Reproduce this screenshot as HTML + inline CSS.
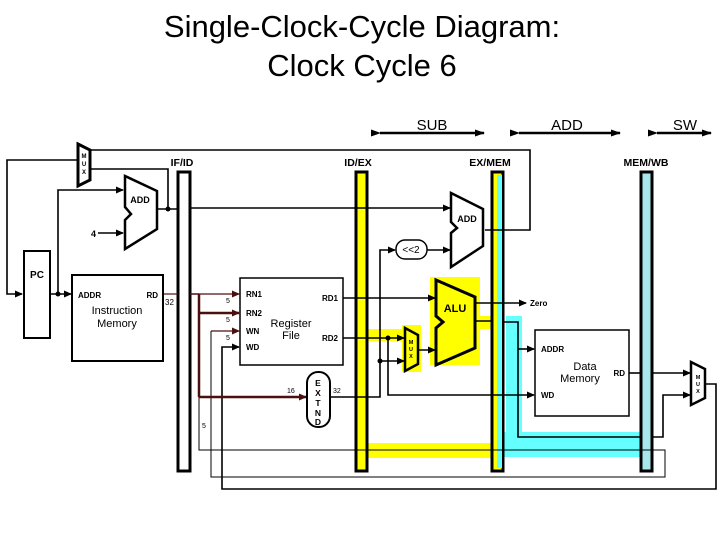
<!DOCTYPE html>
<html><head><meta charset="utf-8"><style>
html,body{margin:0;padding:0;background:#fff;}
svg{display:block;font-family:"Liberation Sans",Arial,sans-serif;}
</style></head><body>
<svg width="720" height="540" viewBox="0 0 720 540" xmlns="http://www.w3.org/2000/svg">
<defs>
<marker id="a" markerWidth="8" markerHeight="8" refX="7" refY="4" orient="auto" markerUnits="userSpaceOnUse"><path d="M0,0.5 L8,4 L0,7.5z" fill="#000"/></marker>
<marker id="r" markerWidth="8" markerHeight="8" refX="7" refY="4" orient="auto" markerUnits="userSpaceOnUse"><path d="M0,0.5 L8,4 L0,7.5z" fill="#4a1010"/></marker>
<marker id="d" markerWidth="10" markerHeight="8" refX="9" refY="4" orient="auto" markerUnits="userSpaceOnUse"><path d="M0,0.5 L10,4 L0,7.5z" fill="#000"/></marker>
</defs>
<text x="362" y="37" font-size="31" text-anchor="middle">Single-Clock-Cycle Diagram:</text>
<text x="362" y="76" font-size="31" text-anchor="middle">Clock Cycle 6</text>
<g stroke="#000" stroke-width="2.5">
<line x1="380" y1="133" x2="484" y2="133" marker-end="url(#d)" marker-start="url(#d)"/>
<line x1="519" y1="133" x2="620" y2="133" marker-end="url(#d)" marker-start="url(#d)"/>
<line x1="657" y1="133" x2="711" y2="133" marker-end="url(#d)" marker-start="url(#d)"/>
</g>
<text x="432" y="130" font-size="15" text-anchor="middle">SUB</text>
<text x="567" y="130" font-size="15" text-anchor="middle">ADD</text>
<text x="685" y="130" font-size="15" text-anchor="middle">SW</text>

<g fill="#ffff00">
<rect x="367" y="329" width="40" height="12"/>
<rect x="402" y="325" width="19" height="47"/>
<rect x="430" y="277" width="50" height="88"/>
<rect x="478" y="316" width="14" height="13"/>
<rect x="367" y="443" width="125" height="15"/>
</g>
<g fill="#66ffff">
<rect x="506" y="316" width="16" height="133"/>
<rect x="503" y="432" width="138" height="25"/>
</g>

<rect x="178" y="172" width="12" height="299" fill="#fff" stroke="#000" stroke-width="3"/>
<rect x="356" y="172" width="11" height="299" fill="#ffff00" stroke="#000" stroke-width="3"/>
<rect x="492" y="172" width="11" height="299" fill="#ffff00" stroke="#000" stroke-width="3"/>
<rect x="497" y="175" width="5" height="293" fill="#66ffff"/>
<rect x="641" y="172" width="11" height="299" fill="#a8e8ec" stroke="#000" stroke-width="3"/>
<g font-size="10.5" font-weight="bold" text-anchor="middle">
<text x="182" y="166">IF/ID</text><text x="358" y="166">ID/EX</text><text x="490" y="166">EX/MEM</text><text x="646" y="166">MEM/WB</text>
</g>

<g stroke="#000" stroke-width="1.6" fill="none">
<polyline points="90,150 530,150 530,230 485,230"/>
<polyline points="78,160 7,160 7,294 22,294" marker-end="url(#a)"/>
<polyline points="50,294 71,294" marker-end="url(#a)"/>
<polyline points="58,294 58,190 123,190" marker-end="url(#a)"/>
<line x1="98" y1="233" x2="123" y2="233" marker-end="url(#a)"/>
<line x1="157" y1="209" x2="178" y2="209"/>
<polyline points="168,209 168,169 91,169"/>
<line x1="190" y1="208" x2="450" y2="208" marker-end="url(#a)"/>
<line x1="427" y1="250" x2="450" y2="250" marker-end="url(#a)"/>
<polyline points="310,397 380,397 380,250 395,250" marker-end="url(#a)"/>
<line x1="380" y1="361" x2="404" y2="361" marker-end="url(#a)"/>
<line x1="343" y1="298" x2="435" y2="298" marker-end="url(#a)"/>
<line x1="343" y1="338" x2="404" y2="338" marker-end="url(#a)"/>
<polyline points="388,338 388,395 534,395" marker-end="url(#a)"/>
<line x1="418" y1="350" x2="435" y2="350" marker-end="url(#a)"/>
<line x1="475" y1="303" x2="526" y2="303" marker-end="url(#a)"/>
<line x1="475" y1="321" x2="492" y2="321"/>
<polyline points="503,322 518,322 518,437 641,437"/>
<line x1="518" y1="349" x2="534" y2="349" marker-end="url(#a)"/>
<line x1="629" y1="373" x2="641" y2="373"/>
<line x1="653" y1="373" x2="690" y2="373" marker-end="url(#a)"/>
<polyline points="653,437 663,437 663,395 690,395" marker-end="url(#a)"/>
<polyline points="705,384 716,384 716,489 222,489 222,347 239,347" marker-end="url(#a)"/>
</g>
<g stroke="#000" stroke-width="1" fill="none">
<polyline points="199,397 199,450 665,450 665,477 211,477 211,331"/>
</g>
<g stroke="#4a1010" fill="none">
<line x1="163" y1="294" x2="178" y2="294" stroke-width="1.2"/>
<line x1="190" y1="294" x2="199" y2="294" stroke-width="1.5"/>
<line x1="199" y1="294" x2="199" y2="397" stroke-width="2.5"/>
<line x1="199" y1="294" x2="239" y2="294" stroke-width="1.3" marker-end="url(#r)"/>
<line x1="199" y1="313" x2="239" y2="313" stroke-width="2.5" marker-end="url(#r)"/>
<line x1="211" y1="331" x2="239" y2="331" stroke-width="1.3" marker-end="url(#r)"/>
<line x1="199" y1="397" x2="306" y2="397" stroke-width="2.5" marker-end="url(#r)"/>
</g>
<g fill="#000">
<circle cx="58" cy="294" r="2.5"/><circle cx="168" cy="209" r="2.5"/>
<circle cx="388" cy="338" r="2.5"/><circle cx="380" cy="361" r="2.5"/>
</g>

<polygon points="78,144 90,150 90,180 78,186" fill="#fff" stroke="#000" stroke-width="3"/>
<text font-size="6" font-weight="bold" x="84" y="158" text-anchor="middle">M</text>
<text font-size="6" font-weight="bold" x="84" y="166" text-anchor="middle">U</text>
<text font-size="6" font-weight="bold" x="84" y="174" text-anchor="middle">X</text>
<polygon points="125,176 157,191 157,229 125,249 125,220 131,214 125,207" fill="#fff" stroke="#000" stroke-width="2.5"/>
<text x="140" y="203" font-size="9" font-weight="bold" text-anchor="middle">ADD</text>
<text x="96" y="237" font-size="9" font-weight="bold" text-anchor="end">4</text>
<rect x="24" y="251" width="26" height="87" fill="#fff" stroke="#000" stroke-width="2"/>
<text x="37" y="278" font-size="10" font-weight="bold" text-anchor="middle">PC</text>
<rect x="72" y="275" width="91" height="86" fill="#fff" stroke="#000" stroke-width="2"/>
<text x="78" y="298" font-size="8" font-weight="bold">ADDR</text>
<text x="158" y="298" font-size="8" font-weight="bold" text-anchor="end">RD</text>
<text x="117" y="314" font-size="11" text-anchor="middle">Instruction</text>
<text x="117" y="327" font-size="11" text-anchor="middle">Memory</text>
<text x="165" y="305" font-size="8">32</text>
<rect x="240" y="278" width="103" height="87" fill="#fff" stroke="#000" stroke-width="1.5"/>
<g font-size="8" font-weight="bold">
<text x="246" y="297">RN1</text><text x="246" y="316">RN2</text><text x="246" y="334">WN</text><text x="246" y="350">WD</text>
<text x="338" y="301" text-anchor="end">RD1</text><text x="338" y="341" text-anchor="end">RD2</text>
</g>
<text x="291" y="327" font-size="11" text-anchor="middle">Register</text>
<text x="291" y="339" font-size="11" text-anchor="middle">File</text>
<g font-size="7"><text x="226" y="303">5</text><text x="226" y="322">5</text><text x="226" y="340">5</text>
<text x="287" y="393">16</text><text x="333" y="393">32</text><text x="202" y="428">5</text></g>
<rect x="307" y="372" width="23" height="55" rx="11" fill="#fff" stroke="#000" stroke-width="2"/>
<g font-size="8.5" font-weight="bold" text-anchor="middle"><text x="318" y="386">E</text><text x="318" y="396">X</text><text x="318" y="406">T</text><text x="318" y="416">N</text><text x="318" y="425">D</text></g>
<rect x="396" y="240" width="31" height="19" rx="9" fill="#fff" stroke="#000" stroke-width="1.5"/>
<text x="411" y="253" font-size="10" text-anchor="middle">&lt;&lt;2</text>
<polygon points="451,193 483,209 483,246 451,267 451,233 457,228 451,222" fill="#fff" stroke="#000" stroke-width="2.5"/>
<text x="467" y="222" font-size="9" font-weight="bold" text-anchor="middle">ADD</text>
<polygon points="436,280 475,297 475,348 436,365 436,328 443,322 436,316" fill="#ffff00" stroke="#000" stroke-width="3"/>
<text x="455" y="312" font-size="11" font-weight="bold" text-anchor="middle">ALU</text>
<polygon points="405,328 418,335 418,364 405,371" fill="#ffff00" stroke="#000" stroke-width="2.5"/>
<g font-size="5.5" font-weight="bold" text-anchor="middle"><text x="411" y="344">M</text><text x="411" y="351">U</text><text x="411" y="358">X</text></g>
<text x="530" y="306" font-size="8" font-weight="bold">Zero</text>
<rect x="535" y="330" width="94" height="86" fill="#fff" stroke="#000" stroke-width="1.5"/>
<text x="541" y="352" font-size="8" font-weight="bold">ADDR</text>
<text x="541" y="398" font-size="8" font-weight="bold">WD</text>
<text x="625" y="376" font-size="8" font-weight="bold" text-anchor="end">RD</text>
<text x="585" y="370" font-size="11" text-anchor="middle">Data</text>
<text x="580" y="382" font-size="11" text-anchor="middle">Memory</text>
<polygon points="691,362 705,369 705,398 691,405" fill="#fff" stroke="#000" stroke-width="2.5"/>
<g font-size="5.5" font-weight="bold" text-anchor="middle"><text x="698" y="379">M</text><text x="698" y="386">U</text><text x="698" y="393">X</text></g>
</svg>
</body></html>
